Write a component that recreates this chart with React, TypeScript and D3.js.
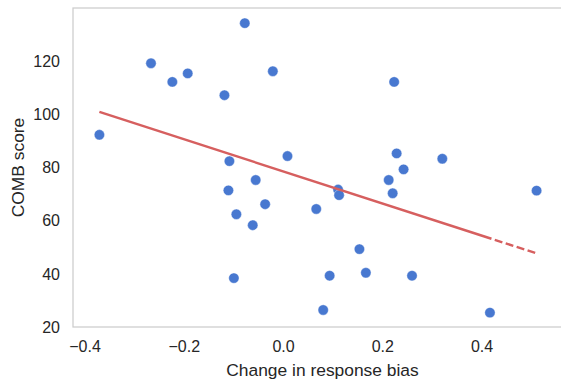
import React from "react";
import * as d3 from "d3";

const biasChange: number[] = [
  -0.371, -0.267, -0.224, -0.193, -0.119, -0.078, -0.0215, -0.109, -0.056, -0.111,
  -0.095, -0.062, -0.037, -0.1, 0.008, 0.066, 0.11, 0.112, 0.093, 0.08,
  0.153, 0.166, 0.259, 0.416, 0.223, 0.228, 0.242, 0.212, 0.22, 0.32, 0.51,
];
const combScore: number[] = [
  92.3, 119.2, 112.2, 115.4, 107.2, 134.3, 116.2, 82.4, 75.3, 71.4,
  62.4, 58.3, 66.2, 38.4, 84.3, 64.4, 71.7, 69.6, 39.3, 26.4,
  49.3, 40.4, 39.3, 25.4, 112.2, 85.3, 79.3, 75.3, 70.3, 83.3, 71.3,
];
const xTicks: number[] = [-0.4, -0.2, 0.0, 0.2, 0.4];
const yTicks: number[] = [20, 40, 60, 80, 100, 120];
const fitIntercept = 78.5;
const fitSlope = -60.4;
const fitSolidEnd = 0.419;

const W = 561;
const H = 382;
const left = 73;
const right = 572;
const top = 8;
const bottom = 327;

export default function App() {
  const x = d3.scaleLinear().domain([-0.4, 0.4]).range([85, 482]);
  const y = d3.scaleLinear().domain([20, 140]).range([bottom, top]);
  const fmt = (v: number) => d3.format(".1f")(v).replace("-", "\u2212");
  const xMin = d3.min(biasChange) as number;
  const xMax = d3.max(biasChange) as number;
  const f = (v: number) => fitIntercept + fitSlope * v;
  const line = d3
    .line<number>()
    .x((d) => x(d))
    .y((d) => y(f(d)));
  const font = "Arial, 'Liberation Sans', sans-serif";
  const points = biasChange.map((b, i) => ({ b, c: combScore[i] }));
  return (
    <svg
      width={W}
      height={H}
      style={{ position: "absolute", left: 0, top: 0, background: "#fff" }}
    >
      <rect x={0} y={0} width={W} height={H} fill="#fff" />
      {/* spines */}
      <rect
        x={left}
        y={top}
        width={right - left}
        height={bottom - top}
        fill="none"
        stroke="#cccccc"
        strokeWidth={1.25}
      />
      {points.map((p, i) => (
        <circle
          key={i}
          cx={x(p.b)}
          cy={y(p.c)}
          r={5.2}
          fill="#4878d0"
          stroke="#ffffff"
          strokeWidth={0.4}
        />
      ))}
      <path
        d={line([xMin, fitSolidEnd]) || ""}
        fill="none"
        stroke="#d65f5f"
        strokeWidth={2.4}
      />
      <path
        d={line([fitSolidEnd, xMax]) || ""}
        fill="none"
        stroke="#d65f5f"
        strokeWidth={2.4}
        strokeDasharray="8,3.5"
        strokeDashoffset={-3.5}
      />
      {xTicks.map((t) => (
        <text
          key={"x" + t}
          x={x(t)}
          y={352}
          textAnchor="middle"
          fontFamily={font}
          fontSize={16}
          fill="#262626"
        >
          {fmt(t)}
        </text>
      ))}
      {yTicks.map((t) => (
        <text
          key={"y" + t}
          x={60}
          y={y(t)}
          dy="0.36em"
          textAnchor="end"
          fontFamily={font}
          fontSize={16}
          fill="#262626"
        >
          {t}
        </text>
      ))}
      <text
        x={(left + right) / 2}
        y={376}
        textAnchor="middle"
        fontFamily={font}
        fontSize={17.4}
        fill="#262626"
      >
        Change in response bias
      </text>
      <text
        transform={`translate(24.3,${(top + bottom) / 2}) rotate(-90)`}
        textAnchor="middle"
        fontFamily={font}
        fontSize={17.4}
        fill="#262626"
      >
        COMB score
      </text>
    </svg>
  );
}
